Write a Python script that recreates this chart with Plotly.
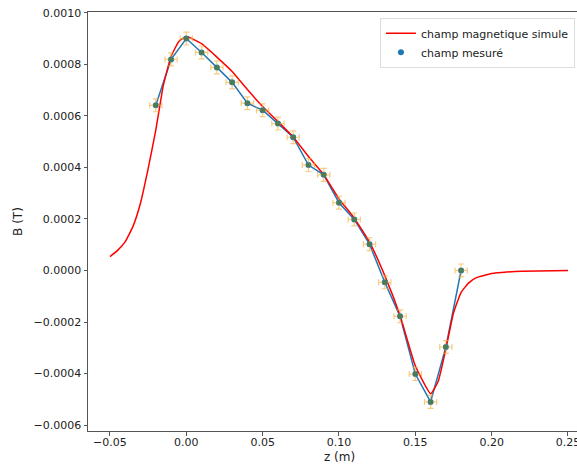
import plotly.graph_objects as go

# Measured field
z_mes = [-0.02, -0.01, 0.00, 0.01, 0.02, 0.03, 0.04, 0.05, 0.06, 0.07, 0.08,
         0.09, 0.10, 0.11, 0.12, 0.13, 0.14, 0.15, 0.16, 0.17, 0.18]
B_mes = [0.000641, 0.000819, 0.000900, 0.000846, 0.000788, 0.000730, 0.000649,
         0.000622, 0.000570, 0.000517, 0.000409, 0.000371, 0.000263, 0.000198,
         0.000102, -0.000046, -0.000178, -0.000402, -0.000510, -0.000297, 0.000000]
z_err = 0.004
B_err = 0.000025

# Simulated field
z_sim = [-0.05, -0.045, -0.04, -0.035, -0.03, -0.025, -0.02, -0.015, -0.01, -0.005,
         0.0, 0.01, 0.02, 0.03, 0.04, 0.05, 0.06, 0.07, 0.08, 0.09, 0.10, 0.11,
         0.12, 0.13, 0.14, 0.15, 0.16, 0.165, 0.17, 0.175, 0.18, 0.185, 0.19,
         0.20, 0.21, 0.22, 0.25]
B_sim = [0.000054, 0.000078, 0.000112, 0.000170, 0.000262, 0.000395, 0.000545,
         0.000720, 0.000830, 0.000888, 0.000908, 0.000880, 0.000828, 0.000772,
         0.000702, 0.000636, 0.000578, 0.000518, 0.000442, 0.000372, 0.000278,
         0.000203, 0.000110, -0.000020, -0.000175, -0.000370, -0.000478,
         -0.000430, -0.000305, -0.000165, -0.000085, -0.000048, -0.000028,
         -0.000012, -0.000006, -0.000003, -0.0000005]

fig = go.Figure()

fig.add_trace(go.Scatter(x=z_mes, y=B_mes, mode="lines",
                         line=dict(color="#1f77b4", width=1.5), showlegend=False))
fig.add_trace(go.Scatter(x=z_sim, y=B_sim, mode="lines", name="champ magnetique simule",
                         line=dict(color="red", width=1.5, shape="spline", smoothing=0.4)))
fig.add_trace(go.Scatter(x=z_mes, y=B_mes, mode="markers", name="champ mesuré",
                         marker=dict(color="#1f77b4", size=6)))
fig.add_trace(go.Scatter(x=z_mes, y=B_mes, mode="markers", showlegend=False,
                         marker=dict(color="#4a7d55", size=5),
                         error_x=dict(type="constant", value=z_err, color="rgba(245,175,60,0.65)",
                                      thickness=1.2, width=3),
                         error_y=dict(type="constant", value=B_err, color="rgba(245,175,60,0.65)",
                                      thickness=1.2, width=3)))

axis_common = dict(showgrid=False, zeroline=False, showline=True, linecolor="#555",
                   linewidth=1, ticks="outside", ticklen=3.5, tickcolor="#555",
                   automargin=False, ticklabeloverflow="allow",
                   tickfont=dict(family="DejaVu Sans", size=11, color="#222"))

fig.update_layout(
    width=577, height=466,
    margin=dict(l=88, r=0, t=12, b=35, autoexpand=False),
    paper_bgcolor="white", plot_bgcolor="white",
    xaxis=dict(range=[-0.0644, 0.2559], dtick=0.05, tick0=0, tickformat=".2f",
               mirror=True, ticklabelstandoff=-3, **axis_common),
    yaxis=dict(range=[-0.000623, 0.001003], dtick=0.0002, tick0=0, tickformat=".4f",
               title=dict(text="B (T)", font=dict(family="DejaVu Sans", size=12, color="#222"),
                          standoff=8),
               **axis_common),
    legend=dict(x=0.597, y=0.986, xanchor="left", yanchor="top",
                bgcolor="rgba(255,255,255,0.8)", bordercolor="#ddd", borderwidth=1,
                font=dict(family="DejaVu Sans", size=11, color="#222"),
                tracegroupgap=0, itemwidth=30),
    annotations=[dict(text="z (m)", xref="paper", yref="paper", x=(339.5 - 88) / 489,
                      y=-0.062, xanchor="center", yanchor="middle", showarrow=False,
                      font=dict(family="DejaVu Sans", size=12, color="#222"))],
    showlegend=True,
)

fig.write_html("out.html",
               config={"displayModeBar": False},
               post_script="document.body.style.margin='0';"
                           "document.body.style.overflow='hidden';")
